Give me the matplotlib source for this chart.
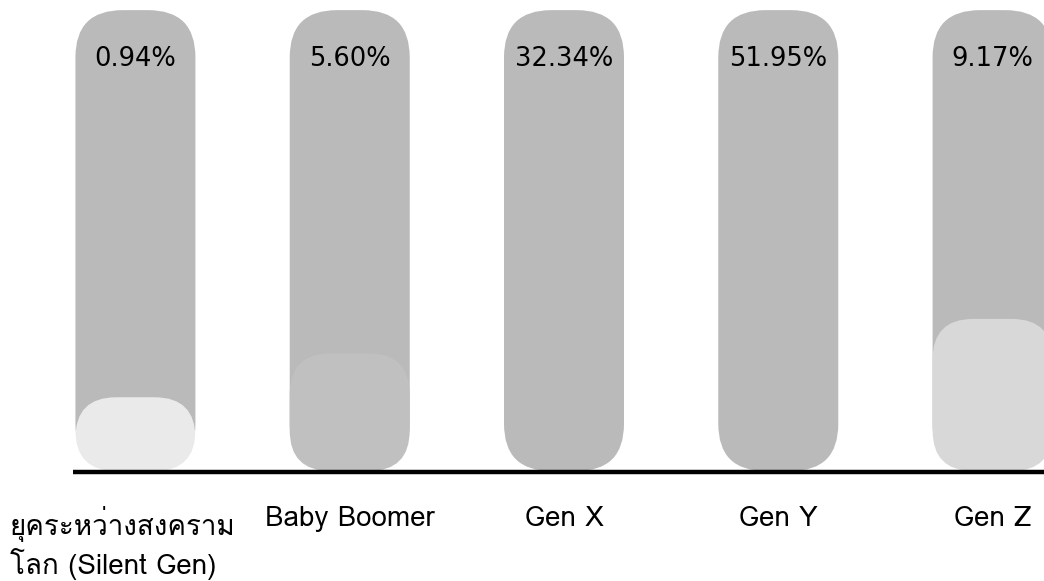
import matplotlib
matplotlib.use("Agg")
import matplotlib.pyplot as plt
from matplotlib.patches import FancyBboxPatch
from matplotlib import font_manager
from matplotlib.ft2font import FT2Font

# ---- data ----
categories = ["ยุคระหว่างสงคราม\nโลก (Silent Gen)", "Baby Boomer", "Gen X", "Gen Y", "Gen Z"]
pct_labels = ["0.94%", "5.60%", "32.34%", "51.95%", "9.17%"]
bar_full = [100, 100, 100, 100, 100]
fill_levels = [16, 25.5, 0, 0, 33]
fill_colors = ["#eaeaea", "#c0c0c0", "#bababa", "#bababa", "#d8d8d8"]

# ---- find a font with Thai glyphs ----
thai_family = None
for fe in font_manager.fontManager.ttflist:
    try:
        cm = FT2Font(fe.fname).get_charmap()
        if 0x0E22 in cm and ord("B") in cm:
            thai_family = fe.name
            break
    except Exception:
        pass
fams = ([thai_family] if thai_family else []) + ["DejaVu Sans"]

fig = plt.figure(figsize=(10.44, 5.81), dpi=100)
ax = fig.add_axes([0, 110 / 581, 1, 471 / 581])
ax.set_xlim(-0.632, 4.240)
ax.set_ylim(0, 102.2)
ax.axis("off")

px_x = 1044 / (4.240 + 0.632)
px_y = 471 / 102.2
aspect = px_x / px_y
w = 0.56
bar_color = "#bababa"

for i, (full, lvl) in enumerate(zip(bar_full, fill_levels)):
    p = FancyBboxPatch((i - w / 2, 0), w, full,
                       boxstyle="round,pad=0,rounding_size=0.22",
                       mutation_aspect=aspect, fc=bar_color, ec="none", zorder=1)
    ax.add_patch(p)
    if lvl > 0:
        q = FancyBboxPatch((i - w / 2, 0), w, lvl,
                           boxstyle="round,pad=0,rounding_size=0.19",
                           mutation_aspect=aspect, fc=fill_colors[i], ec="none", zorder=2)
        ax.add_patch(q)
    ax.text(i, 89.5, pct_labels[i], ha="center", va="center", fontsize=18.5,
            family="DejaVu Sans", color="black", zorder=3)

ax.plot([0 - w / 2 - 0.01, 4.240], [-0.2, -0.2], color="black", lw=3.2,
        solid_capstyle="butt", zorder=4, clip_on=False)

# category labels
for i, lab in enumerate(categories):
    if "\n" in lab:
        ax.text(-0.585, -7.5, lab, ha="left", va="top", fontsize=20, family=fams,
                linespacing=1.24, clip_on=False)
    else:
        ax.text(i, -7.5, lab, ha="center", va="top", fontsize=20, family=fams,
                clip_on=False)

fig.savefig("out.png", dpi=100)
